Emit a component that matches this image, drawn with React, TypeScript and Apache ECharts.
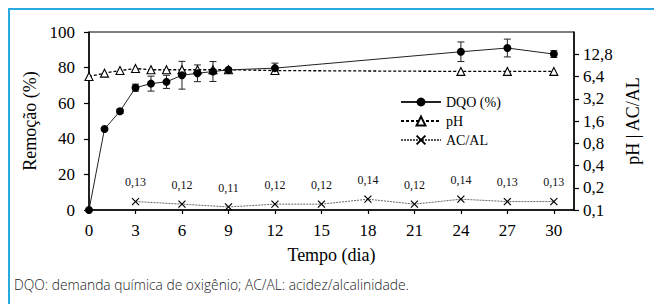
import React, { useEffect, useRef } from "react";
import * as echarts from "echarts";

const days = [0, 1, 2, 3, 4, 5, 6, 7, 8, 9, 12, 24, 27, 30];
const dqo = [0, 45.5, 55.5, 68.7, 71, 72, 75.7, 76.8, 77.8, 78.7, 79.7, 88.9, 91, 87.6];
const dqoErr = [0, 0.8, 1.2, 2, 4.2, 3.7, 7.8, 4.7, 5.6, 1, 2.8, 5.5, 5, 1.9];
const ph = [6.4, 7.1, 7.7, 8.2, 7.9, 7.9, 7.9, 7.9, 7.9, 7.9, 7.7, 7.5, 7.5, 7.5];
const acalDays = [3, 6, 9, 12, 15, 18, 21, 24, 27, 30];
const acal = [0.13, 0.12, 0.11, 0.12, 0.12, 0.14, 0.12, 0.14, 0.13, 0.13];
const xTicks = [0, 3, 6, 9, 12, 15, 18, 21, 24, 27, 30];
const leftTicks = [0, 20, 40, 60, 80, 100];
const rightTicks = [0.1, 0.2, 0.4, 0.8, 1.6, 3.2, 6.4, 12.8];

const RIGHT_BASE = 0.1;
const toLog = (v: number) => Math.log2(v / RIGHT_BASE);
const fmtComma = (v: number, d: number) => v.toFixed(d).replace(".", ",");

const SERIF = "Liberation Serif";
const CROSS = "path://M0,0L10,10M10,0L0,10";

export default function App() {
  const ref = useRef<HTMLDivElement>(null);
  useEffect(() => {
    if (!ref.current) return;
    const chart = echarts.init(ref.current, undefined, { renderer: "svg" });
    const errData = days
      .map((d, i) => [d, dqo[i] - dqoErr[i], dqo[i] + dqoErr[i]])
      .filter((_, i) => dqoErr[i] > 0);
    const option: any = {
      animation: false,
      backgroundColor: "#fff",
      textStyle: { fontFamily: SERIF },
      grid: {
        left: 89,
        right: 80,
        top: 32,
        bottom: 94,
        show: true,
        borderColor: "#000",
        borderWidth: 1,
        containLabel: false,
      },
      legend: {
        orient: "vertical",
        left: 400,
        top: 95,
        padding: 0,
        itemWidth: 40,
        itemHeight: 11,
        itemGap: 5,
        data: ["DQO (%)", "pH", "AC/AL"],
        textStyle: { fontFamily: SERIF, fontSize: 14, color: "#000" },
      },
      xAxis: {
        type: "value",
        min: 0,
        max: 31.3,
        interval: 3,
        name: "Tempo (dia)",
        nameLocation: "middle",
        nameGap: 36,
        nameTextStyle: { fontFamily: SERIF, fontSize: 18, color: "#000" },
        axisLine: { show: true, lineStyle: { color: "#000", width: 1.5 } },
        axisTick: { show: true, length: 4, customValues: xTicks, lineStyle: { color: "#000", width: 1.2 } },
        axisLabel: {
          customValues: xTicks,
          fontFamily: SERIF,
          fontSize: 17,
          color: "#000",
          margin: 12,
        },
        splitLine: { show: false },
      },
      yAxis: [
        {
          type: "value",
          min: 0,
          max: 100,
          interval: 20,
          name: "Remoção (%)",
          nameLocation: "middle",
          nameRotate: 90,
          nameGap: 47,
          nameTextStyle: { fontFamily: SERIF, fontSize: 18, color: "#000" },
          axisLine: { show: true, lineStyle: { color: "#000", width: 1.5 } },
          axisTick: { show: true, length: 5, customValues: leftTicks, lineStyle: { color: "#000", width: 1.2 } },
          axisLabel: {
            customValues: leftTicks,
            fontFamily: SERIF,
            fontSize: 17,
            color: "#000",
            margin: 14,
          },
          splitLine: { show: false },
        },
        {
          type: "value",
          position: "right",
          min: 0,
          max: 8,
          interval: 1,
          name: "pH | AC/AL",
          nameLocation: "middle",
          nameRotate: 90,
          nameGap: 47,
          nameTextStyle: { fontFamily: SERIF, fontSize: 18, color: "#000" },
          axisLine: { show: true, lineStyle: { color: "#000", width: 1.5 } },
          axisTick: {
            show: true,
            length: 5,
            customValues: rightTicks.map(toLog),
            lineStyle: { color: "#000", width: 1.2 },
          },
          axisLabel: {
            customValues: rightTicks.map(toLog),
            formatter: (v: number) => fmtComma(RIGHT_BASE * Math.pow(2, v), 1),
            fontFamily: SERIF,
            fontSize: 17,
            color: "#000",
            margin: 9,
          },
          splitLine: { show: false },
        },
      ],
      series: [
        {
          name: "DQO error",
          type: "custom",
          xAxisIndex: 0,
          yAxisIndex: 0,
          z: 2,
          encode: { x: 0, y: [1, 2] },
          data: errData,
          renderItem: (_p: any, api: any) => {
            const x = api.value(0);
            const lo = api.coord([x, api.value(1)]);
            const hi = api.coord([x, api.value(2)]);
            const w = 3.5;
            const st = { stroke: "#222", lineWidth: 1 };
            return {
              type: "group",
              children: [
                { type: "line", shape: { x1: lo[0], y1: lo[1], x2: hi[0], y2: hi[1] }, style: st },
                { type: "line", shape: { x1: hi[0] - w, y1: hi[1], x2: hi[0] + w, y2: hi[1] }, style: st },
                { type: "line", shape: { x1: lo[0] - w, y1: lo[1], x2: lo[0] + w, y2: lo[1] }, style: st },
              ],
            };
          },
        },
        {
          name: "pH",
          type: "line",
          xAxisIndex: 0,
          yAxisIndex: 1,
          z: 3,
          data: days.map((d, i) => [d, toLog(ph[i])]),
          symbol: "triangle",
          symbolSize: 8,
          lineStyle: { color: "#000", width: 1.3, type: [3, 2] },
          itemStyle: { color: "#fff", borderColor: "#000", borderWidth: 1.1 },
        },
        {
          name: "DQO (%)",
          type: "line",
          xAxisIndex: 0,
          yAxisIndex: 0,
          z: 4,
          data: days.map((d, i) => [d, dqo[i]]),
          symbol: "circle",
          symbolSize: 8,
          lineStyle: { color: "#222", width: 1 },
          itemStyle: { color: "#000", borderColor: "#000", borderWidth: 0 },
        },
        {
          name: "AC/AL",
          type: "line",
          xAxisIndex: 0,
          yAxisIndex: 1,
          z: 3,
          data: acalDays.map((d, i) => [d, toLog(acal[i])]),
          symbol: CROSS,
          symbolSize: 7,
          lineStyle: { color: "#555", width: 0.9, type: [2, 1] },
          itemStyle: { color: "#000", borderColor: "#000", borderWidth: 1.2 },
          label: {
            show: true,
            position: "top",
            distance: 9,
            fontFamily: SERIF,
            fontSize: 12,
            color: "#111",
            formatter: (p: any) => fmtComma(acal[p.dataIndex], 2),
          },
        },
      ],
      graphic: [
        {
          type: "line",
          shape: { x1: 8, y1: 9, x2: 654, y2: 9 },
          style: { stroke: "#2aa9e0", lineWidth: 2 },
        },
        {
          type: "line",
          shape: { x1: 9, y1: 8, x2: 9, y2: 304 },
          style: { stroke: "#2aa9e0", lineWidth: 2 },
        },
        {
          type: "text",
          left: 14,
          top: 277,
          style: {
            text: "DQO: demanda química de oxigênio; AC/AL: acidez/alcalinidade.",
            font: "300 13.8px 'Open Sans', sans-serif",
            fill: "#222",
          },
        },
      ],
    };
    chart.setOption(option);
    return () => chart.dispose();
  }, []);
  return (
    <div
      ref={ref}
      style={{ position: "absolute", left: 0, top: 0, width: 654, height: 304 }}
    />
  );
}
